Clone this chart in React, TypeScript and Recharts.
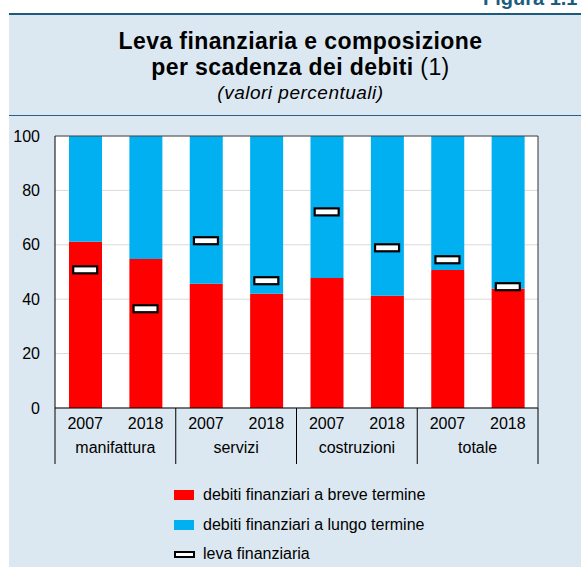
import React from "react";
import {
  ComposedChart,
  Bar,
  Line,
  XAxis,
  YAxis,
  CartesianGrid,
  ReferenceLine,
} from "recharts";

const groups = ["manifattura", "servizi", "costruzioni", "totale"];
const years = ["2007", "2018"];
const breve = [61.1, 54.8, 45.7, 42.0, 47.8, 41.3, 50.7, 43.8];
const lungo = [38.9, 45.2, 54.3, 58.0, 52.2, 58.7, 49.3, 56.2];
const leva = [50.8, 36.5, 61.5, 46.8, 72.1, 58.9, 54.5, 44.6];
const yTicks = [0, 20, 40, 60, 80, 100];

const RED = "#ff0000";
const BLUE = "#00b0f0";
const PANEL = "#dce8f1";
const FONT = '"Liberation Sans", Arial, Helvetica, sans-serif';

const data = groups.flatMap((g, gi) =>
  years.map((yr, yi) => {
    const i = gi * years.length + yi;
    return {
      key: `${g}-${yr}`,
      year: yr,
      group: g,
      breve: breve[i],
      lungo: lungo[i],
      leva: leva[i],
    };
  })
);

const W = 581;
const H = 350;
const LEFT_W = 55;
const RIGHT_W = 43;
const BAND = (W - LEFT_W - RIGHT_W) / data.length;

function XTick(props: any) {
  const { x, y, payload, index } = props;
  const row = data[index];
  const first = index % years.length === 0;
  const last = index === data.length - 1;
  return (
    <g>
      <text x={x} y={y + 21} textAnchor="middle" fontSize={16} fill="#000" fontFamily={FONT}>
        {row ? row.year : payload.value}
      </text>
      {first && (
        <>
          <line x1={x - BAND / 2} x2={x - BAND / 2} y1={y} y2={y + 56} stroke="#000" strokeWidth={1} />
          <text x={x + BAND / 2} y={y + 45} textAnchor="middle" fontSize={16} fill="#000" fontFamily={FONT}>
            {row.group}
          </text>
        </>
      )}
      {last && (
        <line x1={x + BAND / 2} x2={x + BAND / 2} y1={y} y2={y + 56} stroke="#000" strokeWidth={1} />
      )}
    </g>
  );
}

function LevaMark(props: any) {
  const { cx, cy } = props;
  if (cx == null || cy == null) return null;
  return (
    <rect x={cx - 12} y={cy - 3.5} width={24} height={7} fill="#fff" stroke="#000" strokeWidth={2.2} />
  );
}

function LegendRow({ top, kind, label }: { top: number; kind: string; label: string }) {
  let swatch;
  if (kind === "leva") {
    swatch = (
      <div style={{ position: "absolute", left: 174, top: top - 3, width: 17, height: 3, border: "2px solid #000", background: "#fff" }} />
    );
  } else {
    swatch = (
      <div style={{ position: "absolute", left: 174, top: top - 5, width: 20, height: 10, background: kind === "breve" ? RED : BLUE }} />
    );
  }
  return (
    <>
      {swatch}
      <div style={{ position: "absolute", left: 203, top: top - 10, fontSize: 16, lineHeight: "19px", color: "#000", whiteSpace: "nowrap" }}>
        {label}
      </div>
    </>
  );
}

export default function App() {
  return (
    <div
      style={{
        position: "fixed",
        left: 0,
        top: 0,
        width: W,
        height: 567,
        overflow: "hidden",
        background: "#fff",
        fontFamily: FONT,
      }}
    >
      {/* figure number, cut at the top */}
      <div style={{ position: "absolute", left: 483, top: -13, fontSize: 20, fontWeight: "bold", color: "#1b5d80", whiteSpace: "nowrap" }}>
        Figura 1.1
      </div>

      {/* panel */}
      <div style={{ position: "absolute", left: 9, top: 13, width: 620, height: 600, background: PANEL, borderTop: "2px solid #1d5a7b" }} />
      <div style={{ position: "absolute", left: 9, top: 115, width: 620, height: 1, background: "#2f5f7c" }} />

      {/* title */}
      <div style={{ position: "absolute", left: 0, top: 28, width: 601, textAlign: "center", color: "#000" }}>
        <div style={{ fontSize: 23, lineHeight: "26px", fontWeight: "bold", letterSpacing: 0.4 }}>
          Leva finanziaria e composizione
        </div>
        <div style={{ fontSize: 23, lineHeight: "26px", letterSpacing: 0.4 }}>
          <span style={{ fontWeight: "bold" }}>per scadenza dei debiti</span> (1)
        </div>
        <div style={{ fontSize: 19, lineHeight: "26px", fontStyle: "italic", letterSpacing: 0.5 }}>
          (valori percentuali)
        </div>
      </div>

      {/* chart */}
      <div style={{ position: "absolute", left: 0, top: 120 }}>
        <ComposedChart width={W} height={H} data={data} margin={{ top: 16, right: 0, left: 0, bottom: 0 }} barSize={33}>
          <CartesianGrid vertical={false} fill="#fff" stroke="#d9d9d9" />
          <XAxis
            dataKey="key"
            interval={0}
            height={62}
            tickLine={false}
            tickSize={0}
            tickMargin={0}
            axisLine={{ stroke: "#000" }}
            tick={<XTick />}
          />
          <YAxis
            domain={[0, 100]}
            ticks={yTicks}
            width={LEFT_W}
            tickLine={false}
            tickSize={0}
            tickMargin={15}
            axisLine={{ stroke: "#000" }}
            tick={{ fontSize: 16, fill: "#000", fontFamily: FONT }}
          />
          <YAxis
            yAxisId="right"
            orientation="right"
            domain={[0, 100]}
            ticks={yTicks}
            width={RIGHT_W}
            tickLine={false}
            tickSize={0}
            tickMargin={19}
            axisLine={{ stroke: "#333" }}
            tick={{ fontSize: 16, fill: "#000", fontFamily: FONT, textAnchor: "start" }}
          />
          <ReferenceLine y={100} stroke="#444" />
          <Bar dataKey="breve" stackId="s" fill={RED} isAnimationActive={false} />
          <Bar dataKey="lungo" stackId="s" fill={BLUE} isAnimationActive={false} />
          <Line
            dataKey="leva"
            stroke="none"
            dot={<LevaMark />}
            activeDot={false}
            isAnimationActive={false}
          />
        </ComposedChart>
      </div>

      {/* legend */}
      <LegendRow top={495} kind="breve" label="debiti finanziari a breve termine" />
      <LegendRow top={525} kind="lungo" label="debiti finanziari a lungo termine" />
      <LegendRow top={554} kind="leva" label="leva finanziaria" />
    </div>
  );
}
